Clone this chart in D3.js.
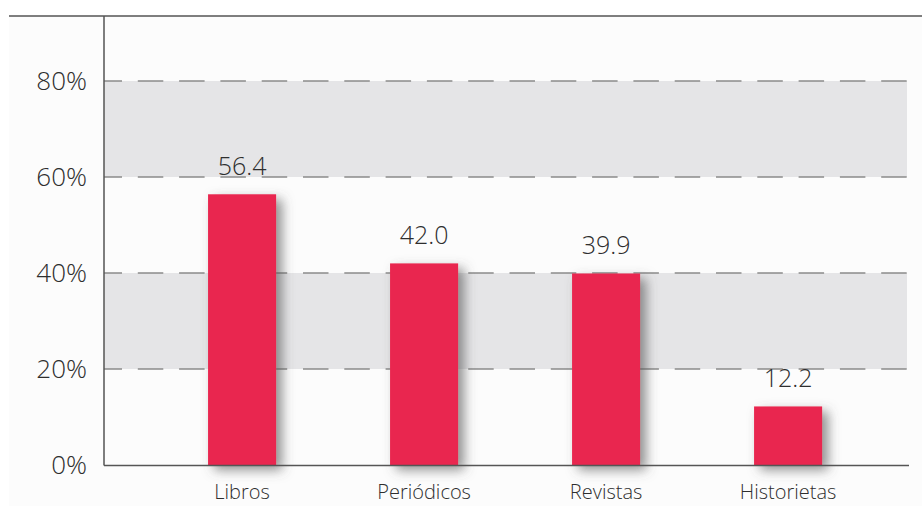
<!DOCTYPE html>
<html><head><meta charset="utf-8">
<script src="https://cdn.jsdelivr.net/npm/d3@7"></script>
<style>body{margin:0;background:#fff}svg{display:block}</style>
</head><body>
<script>
const categories = ["Libros", "Periódicos", "Revistas", "Historietas"];
const values = [56.4, 42.0, 39.9, 12.2];
const valueLabels = ["56.4", "42.0", "39.9", "12.2"];
const yTicks = [0, 20, 40, 60, 80];
const bands = [[20, 40], [60, 80]];

const W = 922, H = 506;
const svg = d3.select("body").append("svg").attr("width", W).attr("height", H);
const font = "'Open Sans', 'Noto Sans', sans-serif";

const defs = svg.append("defs");
const f = defs.append("filter").attr("id", "sh").attr("x", "-50%").attr("y", "-50%").attr("width", "200%").attr("height", "200%");
f.append("feDropShadow").attr("dx", 6).attr("dy", 5).attr("stdDeviation", 6).attr("flood-color", "#555").attr("flood-opacity", 0.65);

const x0 = 104, x1 = 909, yTop = 16;
const y = d3.scaleLinear().domain([0, 80]).range([465, 81]);
const x = d3.scaleBand().domain(categories).range([x0, x1]).paddingInner(0.626).paddingOuter(0.5245).align(0.545);

// background
svg.append("rect").attr("x", 9).attr("y", yTop).attr("width", W - 9).attr("height", H - yTop).attr("fill", "#fcfcfc");

// bands
svg.selectAll("rect.band").data(bands).join("rect").attr("class", "band")
  .attr("x", x0).attr("width", 907 - x0)
  .attr("y", d => y(d[1])).attr("height", d => y(d[0]) - y(d[1]))
  .attr("fill", "#e5e5e7");

// grid
svg.selectAll("line.grid").data(yTicks.filter(t => t > 0)).join("line").attr("class", "grid")
  .attr("x1", x0).attr("x2", 907).attr("y1", d => y(d)).attr("y2", d => y(d))
  .attr("stroke", "#8a8a8a").attr("stroke-width", 1.6).attr("stroke-dasharray", "25.5,15.8")
  .attr("stroke-dashoffset", 7.5);

// bars
svg.selectAll("rect.bar").data(values).join("rect").attr("class", "bar")
  .attr("x", (d, i) => x(categories[i])).attr("width", x.bandwidth())
  .attr("y", d => y(d)).attr("height", d => y(0) - y(d))
  .attr("fill", "#e9264f").attr("filter", "url(#sh)");

// value labels
svg.selectAll("text.val").data(values).join("text").attr("class", "val")
  .attr("x", (d, i) => x(categories[i]) + x.bandwidth() / 2)
  .attr("y", d => y(d) - 19)
  .attr("text-anchor", "middle").attr("font-family", font).attr("font-weight", 350)
  .attr("font-size", 25).attr("fill", "#2e2e2e")
  .text((d, i) => valueLabels[i]);

// axes lines
svg.append("line").attr("x1", 9).attr("x2", W).attr("y1", yTop).attr("y2", yTop).attr("stroke", "#555").attr("stroke-width", 1.5);
svg.append("line").attr("x1", x0).attr("x2", x0).attr("y1", yTop).attr("y2", y(0) + 0.5).attr("stroke", "#555").attr("stroke-width", 1.5);

// y axis
const yAxis = svg.append("g").attr("transform", `translate(${x0 - 17},0)`)
  .call(d3.axisLeft(y).tickValues(yTicks).tickSize(0).tickPadding(0).tickFormat(d => d + "%"));
yAxis.select(".domain").remove();
yAxis.selectAll("text").attr("font-family", font).attr("font-weight", 350)
  .attr("font-size", 26).attr("fill", "#2e2e2e");

// x axis
const xAxis = svg.append("g").attr("transform", `translate(0,${y(0)})`)
  .call(d3.axisBottom(x).tickSize(0).tickPadding(20));
xAxis.select(".domain").attr("stroke", "#555").attr("stroke-width", 1.5).attr("d", `M${x0},0.5H${x1}`);
xAxis.selectAll("text").attr("font-family", font).attr("font-weight", 350)
  .attr("font-size", 20).attr("fill", "#2e2e2e");
</script>
</body></html>
